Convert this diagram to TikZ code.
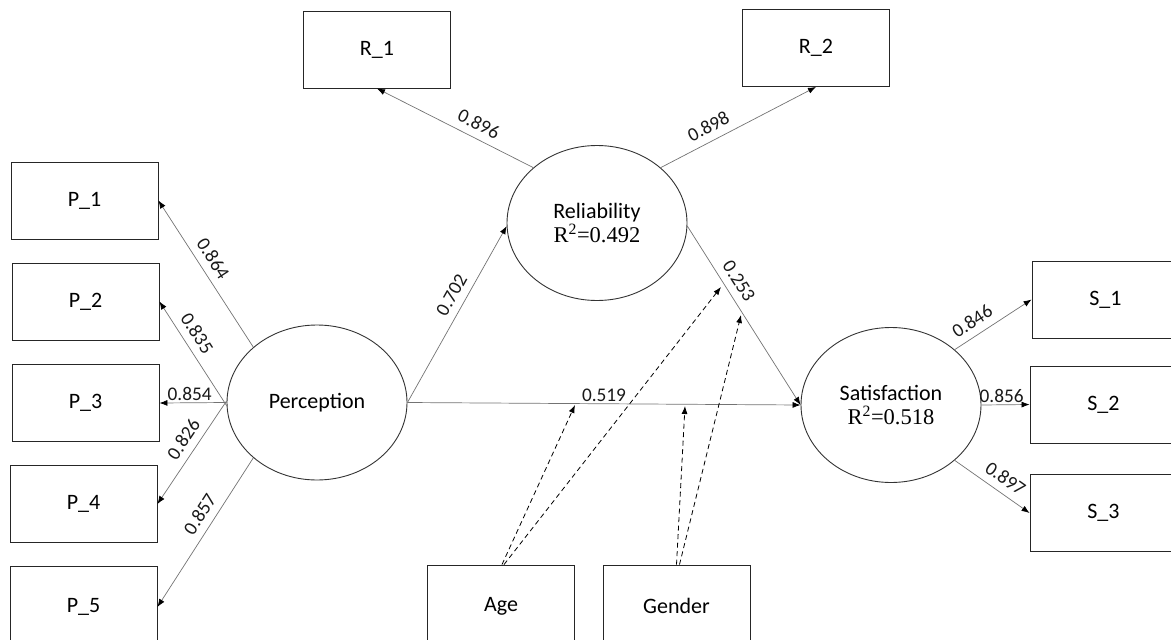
\documentclass[tikz,border=0pt]{standalone}
\usepackage{fontspec}
\setmainfont{Carlito}
\newfontfamily\tnr{Liberation Serif}
\usetikzlibrary{shapes.geometric,arrows.meta}
\tikzset{
  box/.style={draw=black!85, line width=0.9pt, minimum width=147pt, minimum height=77pt, inner sep=0pt,
    font=\fontsize{22}{26}\selectfont},
  lat/.style={draw=black!80, line width=0.9pt, ellipse, minimum width=180pt, minimum height=155pt, inner sep=0pt,
    align=center, font=\fontsize{22}{26}\selectfont},
  path/.style={draw=black!55, line width=0.7pt, -{Latex[length=8pt,width=6pt,color=black]}},
  mod/.style={draw=black, line width=0.8pt, dash pattern=on 5pt off 3.5pt, -{Latex[length=8pt,width=6pt]}},
  lab/.style={font=\fontsize{19.3}{22}\selectfont, inner sep=1pt, text=black!90, above=1pt},
  slab/.style={lab, sloped, above=5.5pt},
}
\newcommand{\rsq}[1]{{\tnr\fontsize{22.5}{26}\selectfont R\textsuperscript{2}=#1}}
\begin{document}
\begin{tikzpicture}[x=1pt,y=-1pt]
\useasboundingbox (0,0) rectangle (1171,640);
\clip (0,0) rectangle (1171,640);
% indicator boxes
\node[box] (p1) at (84.5,200.5) {P\_1};
\node[box] (p2) at (85.5,301.5) {P\_2};
\node[box] (p3) at (85.5,403) {P\_3};
\node[box] (p4) at (83.5,504) {P\_4};
\node[box, minimum height=82pt] (p5) at (83.5,607) {P\_5};
\node[box] (r1) at (377,49.5) {R\_1};
\node[box] (r2) at (816,48) {R\_2};
\node[box] (s1) at (1105.5,299.5) {S\_1};
\node[box] (s2) at (1103.5,404.5) {S\_2};
\node[box] (s3) at (1103.5,513) {S\_3};
\node[box, minimum height=82pt] (age) at (501,606) {Age};
\node[box, minimum height=82pt] (gen) at (676.5,606) {Gender};
% latent variables
\node[lat] (perc) at (317,402.5) {Perception};
\node[lat] (rel) at (597,223) {Reliability\\[-2pt]\rsq{0.492}};
\node[lat] (sat) at (891,405) {Satisfaction\\[-2pt]\rsq{0.518}};
% outer loadings
\draw[path] (perc.139) -- node[slab, pos=0.55] {0.864} (p1.east);
\draw[path] (perc.182) -- node[slab, pos=0.62] {0.835} (p2.east);
\draw[path] (perc.west) -- node[lab, pos=0.55] {0.854} (p3.east);
\draw[path] (perc.179) -- node[slab, pos=0.45] {0.826} (p4.east);
\draw[path] (perc.221) -- node[slab, pos=0.43] {0.857} (p5.east);
\draw[path] (rel.139) -- node[slab, pos=0.39] {0.896} (r1.south);
\draw[path] (rel.41) -- node[slab, pos=0.35] {0.898} (r2.south);
\draw[path] (sat.41) -- node[slab, pos=0.33] {0.846} (s1.west);
\draw[path] (sat.east) -- node[lab, pos=0.42] {0.856} (s2.west);
\draw[path] (sat.-41) -- node[slab, pos=0.57] {0.897} (s3.west);
% structural paths
\draw[path] (perc.east) -- node[slab, pos=0.57] {0.702} (rel.182);
\draw[path] (perc.east) -- node[lab, pos=0.5] {0.519} (sat.west);
\draw[path] (rel.-2) -- node[slab, pos=0.35] {0.253} (sat.west);
% moderators
\coordinate (m1) at (575,405);
\coordinate (m2) at (721,287);
\coordinate (m3) at (685,406);
\coordinate (m4) at (741,315);
\draw[mod] ([xshift=1pt]age.north) -- (m1);
\draw[mod] ([xshift=3pt]age.north) -- (m2);
\draw[mod] (gen.north) -- (m3);
\draw[mod] ([xshift=3pt]gen.north) -- (m4);
\end{tikzpicture}
\end{document}
